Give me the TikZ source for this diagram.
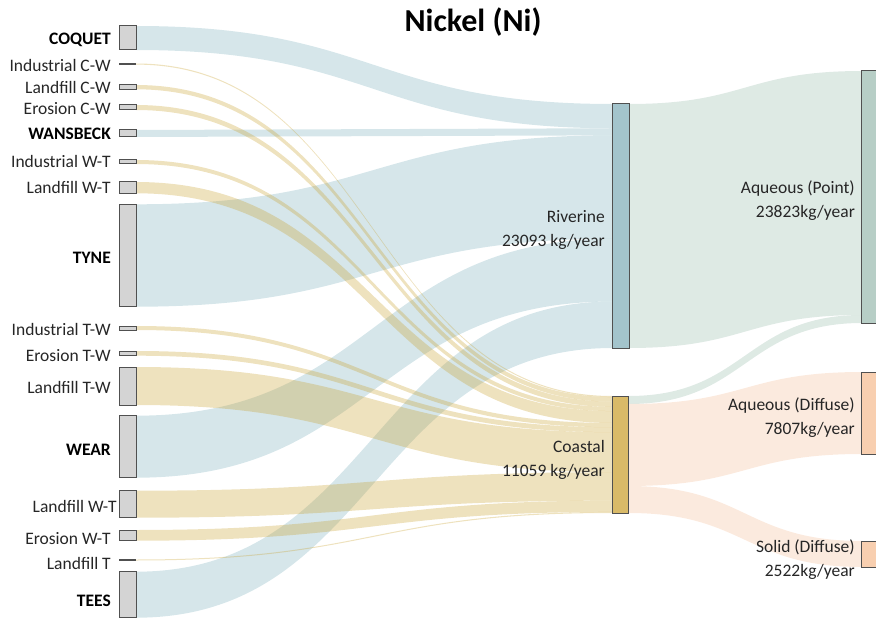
\documentclass[tikz,border=0pt]{standalone}
\usepackage{fontspec}
\setmainfont{Carlito}
\definecolor{txt}{RGB}{38,38,38}
\definecolor{barfill}{RGB}{212,212,212}
\definecolor{barline}{RGB}{80,80,80}
\definecolor{rivfill}{RGB}{163,196,204}
\definecolor{coafill}{RGB}{217,186,104}
\definecolor{ptfill}{RGB}{183,206,198}
\definecolor{peachfill}{RGB}{248,207,176}
\definecolor{fblue}{RGB}{118,172,185}
\definecolor{fgold}{RGB}{200,158,40}
\definecolor{fgreen}{RGB}{205,222,214}
\definecolor{fpeach}{RGB}{248,214,190}
\newcommand\sankeyflow[7]{%
  \fill[#1] (#2,#3) .. controls ({(#2+#5)/2},#3) and ({(#2+#5)/2},#6) .. (#5,#6)
    -- (#5,#7) .. controls ({(#2+#5)/2},#7) and ({(#2+#5)/2},#4) .. (#2,#4) -- cycle;}
\tikzset{
  leftbar/.style={draw=barline, fill=barfill, line width=1pt, minimum width=17pt, inner sep=0pt, outer sep=0pt},
  thinbar/.style={draw=barline, line width=1.2pt},
  midbar/.style={draw=barline, line width=1pt, minimum width=16.5pt, inner sep=0pt, outer sep=0pt},
  lbl/.style={anchor=east, inner sep=0pt, text=txt, font=\fontsize{17.5}{24}\selectfont, text height=11.5pt, text depth=0pt},
  blbl/.style={lbl, text=black, font=\fontsize{17.5}{24}\selectfont\bfseries},
  mlbl/.style={anchor=east, inner sep=0pt, align=right, text=txt, font=\fontsize{17.5}{24}\selectfont},
  toblue/.style={fblue, opacity=0.3},
  togold/.style={fgold, opacity=0.3},
  togreen/.style={fgreen, opacity=0.65},
  topeach/.style={fpeach, opacity=0.5},
}
\begin{document}
\begin{tikzpicture}[x=1pt,y=-1pt]
\useasboundingbox (0,0) rectangle (876,623);
% ---- flows to Riverine
\sankeyflow{toblue}{136}{26}{50}{612.5}{104}{128.26}
\sankeyflow{toblue}{136}{130}{137}{612.5}{128.26}{135.34}
\sankeyflow{toblue}{136}{204.3}{306.7}{612.5}{135.34}{238.84}
\sankeyflow{toblue}{136}{415.7}{477.7}{612.5}{238.84}{301.51}
\sankeyflow{toblue}{136}{571.7}{617.7}{612.5}{301.51}{348}
% ---- flows to Coastal
\sankeyflow{togold}{136}{63.5}{64.6}{612}{396}{397.05}
\sankeyflow{togold}{136}{85}{89.3}{612}{397.05}{401.58}
\sankeyflow{togold}{136}{105}{110}{612}{401.58}{406.85}
\sankeyflow{togold}{136}{160}{164}{612}{406.85}{411.07}
\sankeyflow{togold}{136}{182}{193.3}{612}{411.07}{422.98}
\sankeyflow{togold}{136}{326}{330}{612}{422.98}{427.2}
\sankeyflow{togold}{136}{351}{355.7}{612}{427.2}{432.15}
\sankeyflow{togold}{136}{367}{405}{612}{432.15}{472.2}
\sankeyflow{togold}{136}{490.7}{517.7}{612}{472.2}{500.66}
\sankeyflow{togold}{136}{530}{540.7}{612}{500.66}{511.94}
\sankeyflow{togold}{136}{559.5}{560.5}{612}{511.94}{513}
% ---- flows to outputs
\sankeyflow{togreen}{629}{104}{348}{862}{71}{315}
\sankeyflow{togreen}{628.5}{396}{404}{862}{315}{323}
\sankeyflow{topeach}{628.5}{404}{486}{862}{372}{454}
\sankeyflow{topeach}{628.5}{486}{513}{862}{541}{567}
% ---- left bars
\node[leftbar, minimum height=24pt] (coq) at (127.5,38) {};
\draw[thinbar] (119,64) -- (136,64) coordinate (icw);
\node[leftbar, minimum height=4.3pt] (lcw) at (127.5,87.15) {};
\node[leftbar, minimum height=5pt] (ecw) at (127.5,107.5) {};
\node[leftbar, minimum height=7pt] (wan) at (127.5,133.5) {};
\node[leftbar, minimum height=4pt] (iwt) at (127.5,162) {};
\node[leftbar, minimum height=11.3pt] (lwt) at (127.5,187.65) {};
\node[leftbar, minimum height=102.4pt] (tyn) at (127.5,255.5) {};
\node[leftbar, minimum height=4pt] (itw) at (127.5,328) {};
\node[leftbar, minimum height=4.7pt] (etw) at (127.5,353.35) {};
\node[leftbar, minimum height=38pt] (ltw) at (127.5,386) {};
\node[leftbar, minimum height=62pt] (wea) at (127.5,446.7) {};
\node[leftbar, minimum height=27pt] (lwtb) at (127.5,504.2) {};
\node[leftbar, minimum height=10.7pt] (ewt) at (127.5,535.35) {};
\draw[thinbar] (119,560) -- (136,560) coordinate (lt);
\node[leftbar, minimum height=46pt] (tee) at (127.5,594.7) {};
% ---- left labels
\node[blbl] (coqL) at (111,39) {COQUET};
\node[lbl] (icwL) at (111,66) {Industrial C-W};
\node[lbl] (lcwL) at (111,88) {Landfill C-W};
\node[lbl] (ecwL) at (111,109) {Erosion C-W};
\node[blbl] (wanL) at (111,134) {WANSBECK};
\node[lbl] (iwtL) at (111,162) {Industrial W-T};
\node[lbl] (lwtL) at (111,188) {Landfill W-T};
\node[blbl] (tynL) at (111,258) {TYNE};
\node[lbl] (itwL) at (111,330) {Industrial T-W};
\node[lbl] (etwL) at (111,356) {Erosion T-W};
\node[lbl] (ltwL) at (111,388) {Landfill T-W};
\node[blbl] (weaL) at (111,450) {WEAR};
\node[lbl] (lwtbL) at (117,507) {Landfill W-T};
\node[lbl] (ewtL) at (111,539) {Erosion W-T};
\node[lbl] (ltL) at (111,564) {Landfill T};
\node[blbl] (teeL) at (111,601) {TEES};
% ---- middle nodes
\node[midbar, fill=rivfill, minimum height=244pt] (riv) at (620.75,226) {};
\node[midbar, fill=coafill, minimum height=117pt] (coa) at (620.25,454.5) {};
\node[mlbl] (rivL) at (605,230) {Riverine\\23093 kg/year};
\node[mlbl] (coaL) at (605,459.5) {Coastal\\11059 kg/year};
% ---- right nodes
\node[midbar, fill=ptfill, minimum height=252pt] (apt) at (870,197) {};
\node[midbar, fill=peachfill, minimum height=82pt] (adf) at (870,413) {};
\node[midbar, fill=peachfill, minimum height=26pt] (sdf) at (870,554) {};
\node[mlbl] (aptL) at (855,201) {Aqueous (Point)\\23823kg/year};
\node[mlbl] (adfL) at (855,417.5) {Aqueous (Diffuse)\\7807kg/year};
\node[mlbl] (sdfL) at (855,559.5) {Solid (Diffuse)\\2522kg/year};
% ---- title
\node[font=\fontsize{32}{38}\selectfont\bfseries, text=black] (title) at (473,22) {Nickel (Ni)};
\end{tikzpicture}
\end{document}
